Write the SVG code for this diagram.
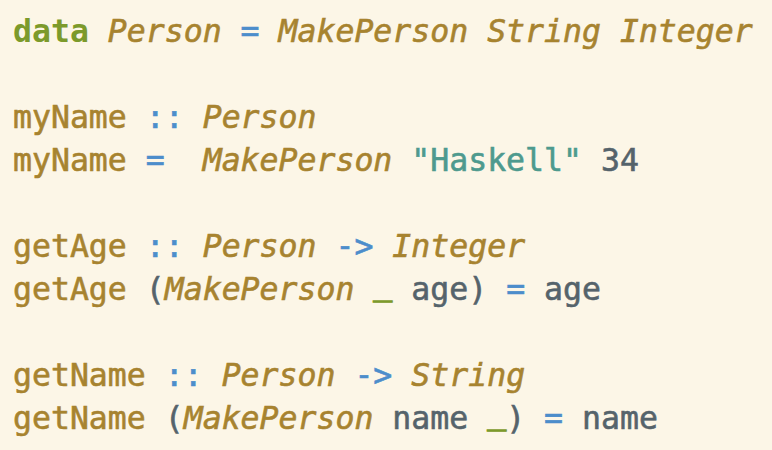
<svg xmlns="http://www.w3.org/2000/svg" width="772" height="450" viewBox="0 0 772 450">
<style>
text{font-family:"DejaVu Sans Mono","Liberation Mono",monospace;font-size:31.5px;white-space:pre;stroke-width:0.6px}
.f{fill:#A7832F;stroke:#A7832F}
.t{fill:#A7832F;stroke:#A7832F;font-style:italic}
.k{fill:#7C9A2B;font-weight:bold}
.o{fill:#4C8DCB;stroke:#4C8DCB}
.s{fill:#4E9A8E;stroke:#4E9A8E}
.v{fill:#55636B;stroke:#55636B}
.u{fill:#7C9A2B;stroke:#7C9A2B;stroke-width:1.2px}
</style>
<rect width="772" height="450" fill="#FCF6E7"/>
<text x="13" y="42" xml:space="preserve"><tspan class="k">data</tspan> <tspan class="t">Person</tspan> <tspan class="o">=</tspan> <tspan class="t">MakePerson</tspan> <tspan class="t">String</tspan> <tspan class="t">Integer</tspan></text>
<text x="13" y="128" xml:space="preserve"><tspan class="f">myName</tspan> <tspan class="o">::</tspan> <tspan class="t">Person</tspan></text>
<text x="13" y="171" xml:space="preserve"><tspan class="f">myName</tspan> <tspan class="o">=</tspan>  <tspan class="t">MakePerson</tspan> <tspan class="s">"Haskell"</tspan> <tspan class="v">34</tspan></text>
<text x="13" y="257" xml:space="preserve"><tspan class="f">getAge</tspan> <tspan class="o">::</tspan> <tspan class="t">Person</tspan> <tspan class="o">-&gt;</tspan> <tspan class="t">Integer</tspan></text>
<text x="13" y="300" xml:space="preserve"><tspan class="f">getAge</tspan> <tspan class="v">(</tspan><tspan class="t">MakePerson</tspan> <tspan class="u" dy="-5">_</tspan><tspan dy="5"> </tspan><tspan class="v">age)</tspan> <tspan class="o">=</tspan> <tspan class="v">age</tspan></text>
<text x="13" y="386" xml:space="preserve"><tspan class="f">getName</tspan> <tspan class="o">::</tspan> <tspan class="t">Person</tspan> <tspan class="o">-&gt;</tspan> <tspan class="t">String</tspan></text>
<text x="13" y="429" xml:space="preserve"><tspan class="f">getName</tspan> <tspan class="v">(</tspan><tspan class="t">MakePerson</tspan> <tspan class="v">name</tspan> <tspan class="u" dy="-5">_</tspan><tspan class="v" dy="5">)</tspan> <tspan class="o">=</tspan> <tspan class="v">name</tspan></text>
</svg>
